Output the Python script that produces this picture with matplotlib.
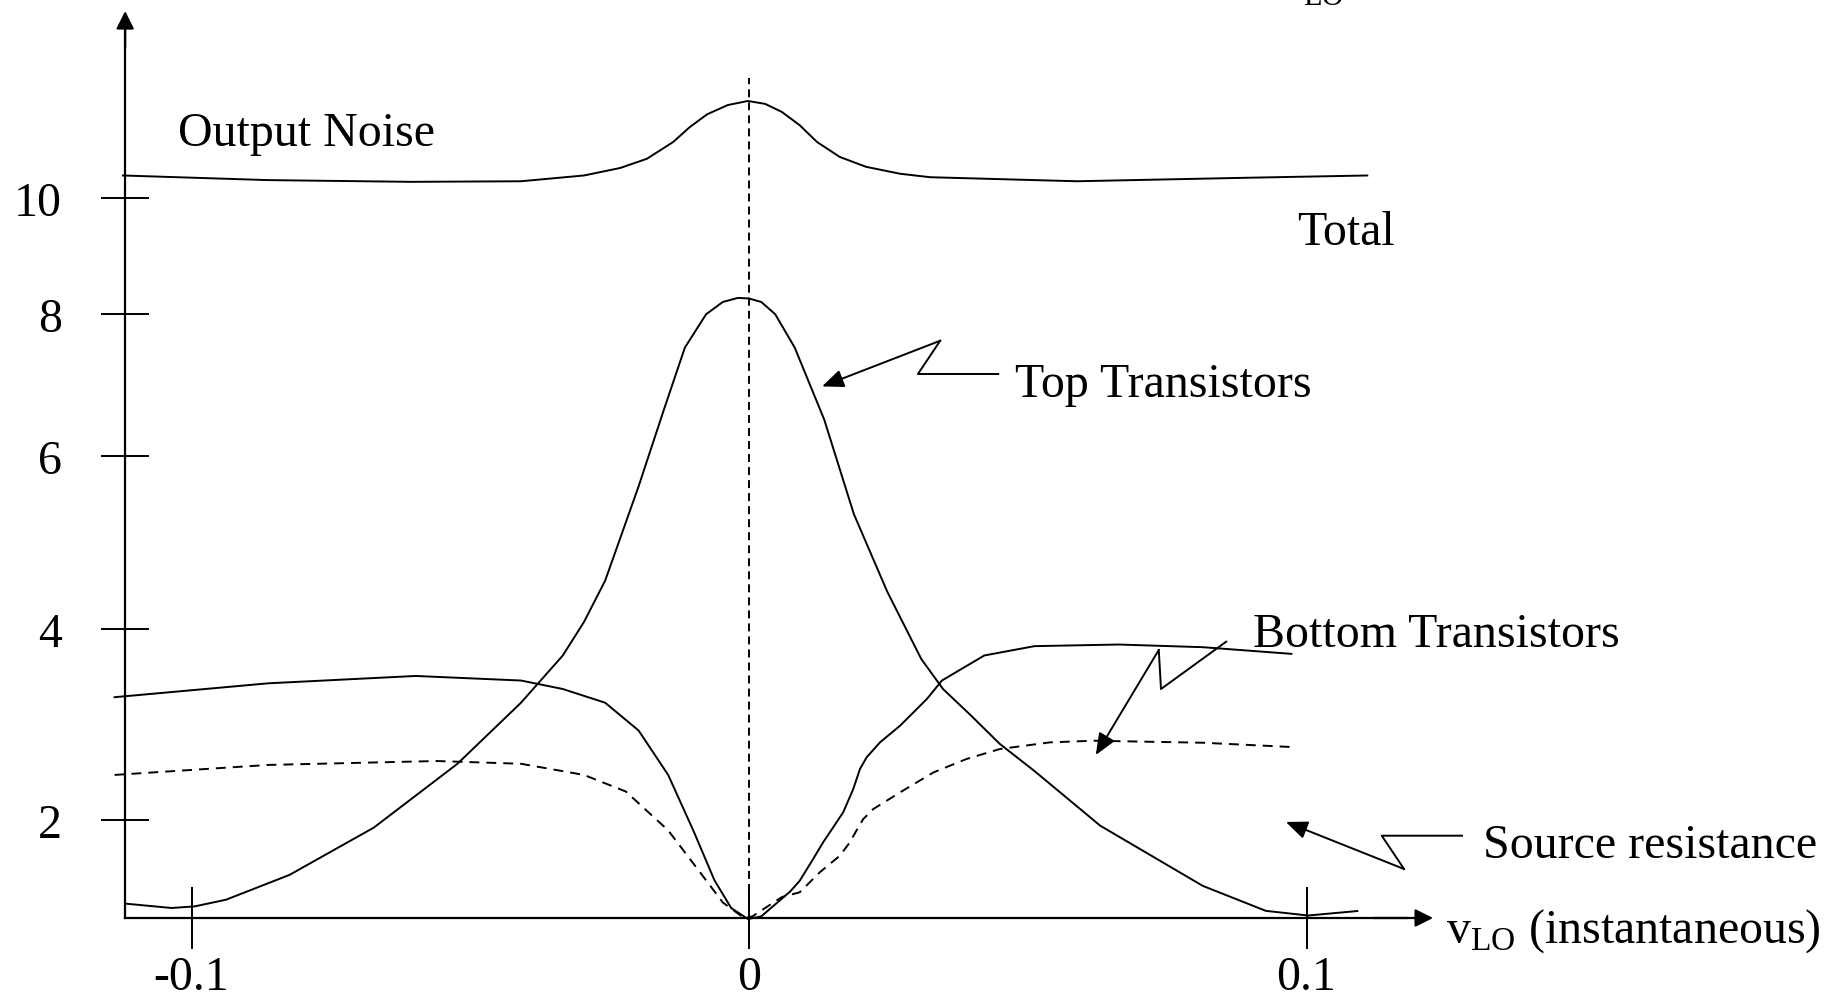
import numpy as np
import matplotlib
matplotlib.use('Agg')
import matplotlib.pyplot as plt

plt.rcParams['font.family'] = ['Liberation Serif', 'DejaVu Serif']
plt.rcParams['mathtext.fontset'] = 'custom'
plt.rcParams['mathtext.rm'] = 'Liberation Serif'
plt.rcParams['axes.unicode_minus'] = False

# x: instantaneous v_LO, y: output noise (arbitrary units as drawn)
total_v = [-0.1123, -0.0863, -0.0606, -0.0409, -0.0296, -0.0231, -0.0183, -0.0136,
           -0.0106, -0.0075, -0.0038, -0.0002, 0.0029, 0.0059, 0.0091, 0.0122,
           0.0163, 0.0210, 0.0271, 0.0325, 0.0588, 0.0890, 0.1109]
total_n = [10.39, 10.31, 10.28, 10.29, 10.39, 10.52, 10.68, 10.97,
           11.23, 11.45, 11.61, 11.68, 11.63, 11.49, 11.26, 10.97,
           10.71, 10.54, 10.42, 10.36, 10.29, 10.35, 10.39]

top_v = [-0.1119, -0.1036, -0.0994, -0.0938, -0.0824, -0.0673, -0.0523, -0.0409,
         -0.0334, -0.0296, -0.0258, -0.0198, -0.0152, -0.0115, -0.0077, -0.0047,
         -0.0020, 0.0000, 0.0022, 0.0047, 0.0082, 0.0135, 0.0188, 0.0248, 0.0309,
         0.0348, 0.0399, 0.0450, 0.0512, 0.0630, 0.0814, 0.0927, 0.1003, 0.1091]
top_n = [1.117, 1.071, 1.088, 1.158, 1.419, 1.915, 2.585, 3.226,
         3.722, 4.081, 4.558, 5.645, 6.661, 7.520, 7.989, 8.200,
         8.270, 8.260, 8.200, 7.990, 7.520, 6.504, 5.326, 4.430, 3.685,
         3.370, 3.087, 2.793, 2.509, 1.935, 1.303, 1.041, 0.992, 1.039]

bot_v = [-0.1138, -0.0862, -0.0598, -0.0409, -0.0334, -0.0258, -0.0198, -0.0145,
         -0.0100, -0.0062, -0.0032, -0.0002, 0.0022, 0.0074, 0.0091, 0.0115,
         0.0133, 0.0151, 0.0169, 0.0187, 0.0199, 0.0211, 0.0235, 0.0271,
         0.0319, 0.0346, 0.0422, 0.0512, 0.0663, 0.0814, 0.0973]
bot_n = [3.284, 3.430, 3.507, 3.459, 3.370, 3.226, 2.934, 2.468,
         1.886, 1.362, 1.071, 0.955, 0.983, 1.245, 1.357, 1.585,
         1.761, 1.918, 2.076, 2.320, 2.530, 2.653, 2.810, 2.985,
         3.265, 3.459, 3.722, 3.820, 3.837, 3.809, 3.739]

src_v = [-0.1138, -0.0862, -0.0560, -0.0409, -0.0296, -0.0221, -0.0145, -0.0092,
         -0.0047, -0.0009, 0.0006, 0.0059, 0.0091, 0.0127, 0.0163, 0.0181,
         0.0196, 0.0205, 0.0223, 0.0271, 0.0331, 0.0390, 0.0450, 0.0540,
         0.0618, 0.0814, 0.0973]
src_n = [2.468, 2.573, 2.614, 2.585, 2.468, 2.294, 1.886, 1.478,
         1.129, 0.966, 0.983, 1.186, 1.236, 1.446, 1.620, 1.761,
         1.918, 2.005, 2.110, 2.285, 2.495, 2.635, 2.740, 2.810,
         2.827, 2.806, 2.761]

x_ticks = [-0.1, 0.0, 0.1]
x_ticklabels = ['-0.1', '0', '0.1']
y_ticks = [2, 4, 6, 8, 10]
y_ticklabels = ['2', '4', '6', '8', '10']

# the hand drawn y ticks are unevenly spaced: map values to picture rows
scale_n = [0, 2, 4, 6, 8, 10, 14]
scale_row = [1011, 820.5, 630, 456.5, 314.5, 199, -32]


def fwd(y):
    return -np.interp(y, scale_n, scale_row)


def inv(p):
    return np.interp(-np.asarray(p), scale_row[::-1], scale_n[::-1])


origin_v = -0.1119
origin_n = 0.966
lw = 1.4
fs = 34.5

fig = plt.figure(figsize=(18.28, 10.03), dpi=100)
ax = fig.add_axes([0, 0, 1, 1])
ax.set_yscale('function', functions=(fwd, inv))
ax.set_xlim(-0.13435, 0.19354)
ax.set_ylim(0.084, 13.446)

curve = dict(color='k', lw=lw, solid_joinstyle='round', dash_joinstyle='round')
ax.plot(total_v, total_n, '-', **curve)
ax.plot(top_v, top_n, '-', **curve)
ax.plot(bot_v, bot_n, '-', **curve)
ax.plot(src_v, src_n, linestyle=(0, (5.1, 3.6)), **curve)
ax.vlines(0.0, origin_n, 12.07, colors='k', lw=lw, linestyles=[(0, (4.1, 2.6))])

# axes
for s in ('top', 'right'):
    ax.spines[s].set_visible(False)
ax.spines['left'].set_position(('data', origin_v))
ax.spines['bottom'].set_position(('data', origin_n))
ax.spines['left'].set_bounds(origin_n, 13.0)
ax.spines['bottom'].set_bounds(origin_v, 0.118)
ax.spines['left'].set_linewidth(1.6)
ax.spines['bottom'].set_linewidth(1.6)
head = dict(arrowstyle='-|>', color='k', lw=1.6, mutation_scale=27, shrinkA=0, shrinkB=0)
ax.annotate('', xy=(origin_v, 13.238), xytext=(origin_v, 12.6), arrowprops=head)
ax.annotate('', xy=(0.1227, origin_n), xytext=(0.112, origin_n), arrowprops=head)

ax.set_xticks(x_ticks, x_ticklabels)
ax.set_yticks(y_ticks, y_ticklabels)
ax.minorticks_off()
ax.tick_params(axis='x', direction='inout', length=44, width=1.4, pad=5, labelsize=fs)
ax.tick_params(axis='y', direction='inout', length=35, width=1.4, pad=28, labelsize=fs)

# labels with zigzag leaders
ax.text(-0.1024, 10.918, 'Output Noise', fontsize=fs)
ax.text(0.0984, 9.207, 'Total', fontsize=fs)
ax.text(0.0477, 6.838, 'Top Transistors', fontsize=fs)
ax.text(0.0904, 3.825, 'Bottom Transistors', fontsize=fs)
ax.text(0.1317, 1.603, 'Source resistance', fontsize=fs)
ax.text(0.1250, 0.714, r'v$_{\mathrm{LO}}$ (instantaneous)', fontsize=34.5)
ax.text(0.0994, 13.36, 'LO', fontsize=22)

leaders = [
    ([0.0447, 0.0303, 0.0343], [7.148, 7.148, 7.617], (0.0131, 6.973)),
    ([0.0856, 0.0739, 0.0735], [3.867, 3.370, 3.780], (0.0622, 2.677)),
    ([0.1279, 0.1135, 0.1175], [1.830, 1.830, 1.480], (0.0963, 1.974)),
]
small = dict(arrowstyle='-|>,head_length=0.6,head_width=0.25', color='k', lw=lw,
             mutation_scale=22, shrinkA=0, shrinkB=0)
for lx, ly, tip in leaders:
    ax.plot(lx, ly, 'k-', lw=lw)
    ax.annotate('', xy=tip, xytext=(lx[-1], ly[-1]), arrowprops=small)

fig.savefig('out.png', dpi=100)
